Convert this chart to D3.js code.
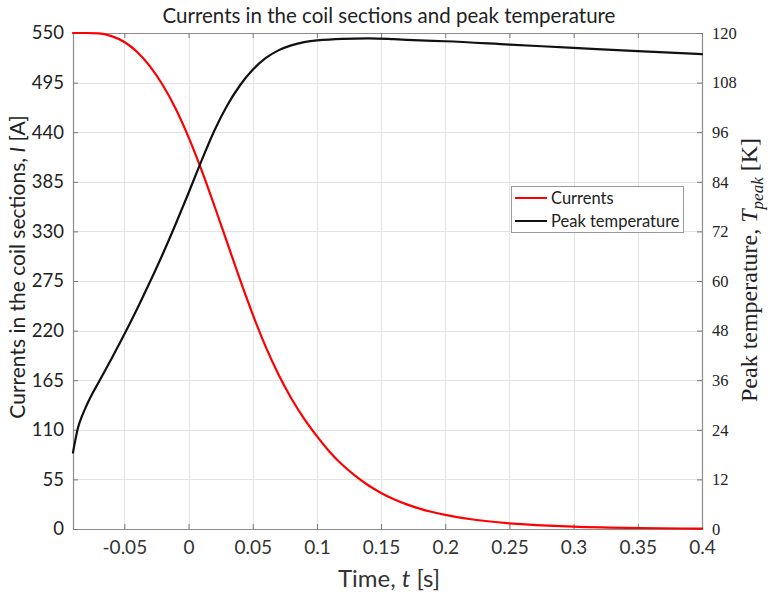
<!DOCTYPE html>
<html><head><meta charset="utf-8">
<script src="https://cdn.jsdelivr.net/npm/d3@7"></script>
<style>body{margin:0;background:#fff;} svg{display:block;}</style>
</head><body>
<script>
const timeTicks = [-0.05, 0, 0.05, 0.1, 0.15, 0.2, 0.25, 0.3, 0.35, 0.4];
const timeTickLabels = ["-0.05","0","0.05","0.1","0.15","0.2","0.25","0.3","0.35","0.4"];
const currentTicks = [0,55,110,165,220,275,330,385,440,495,550];
const tempTicks = [0,12,24,36,48,60,72,84,96,108,120];

const currentT = [-0.09,-0.08,-0.07,-0.06,-0.05,-0.04,-0.03,-0.02,-0.01,0,0.01,0.02,0.03,0.04,0.05,0.06,0.07,0.08,0.09,0.1,0.11,0.12,0.13,0.14,0.15,0.16,0.17,0.18,0.19,0.2,0.22,0.25,0.28,0.3,0.35,0.4];
const currentI = [550,550,549.6,546.5,540,529,513,492,466,434.5,398.5,359,318,277,238,202.5,171.5,145,122.5,103,85.5,71,59,48.5,40,33,27.3,22.6,18.8,15.6,10.8,6.3,3.8,2.7,1.1,0.4];

const tempT = [-0.09,-0.088,-0.086,-0.083,-0.08,-0.075,-0.07,-0.06,-0.05,-0.04,-0.03,-0.02,-0.01,0,0.01,0.02,0.03,0.04,0.05,0.06,0.07,0.08,0.09,0.1,0.12,0.14,0.16,0.18,0.2,0.25,0.3,0.35,0.4];
const tempK = [18.5,21.8,24.6,27.3,29.5,32.7,35.5,41.2,47.1,53.3,59.8,66.6,73.8,81.3,89.0,96.3,102.4,107.3,111.1,113.9,115.8,117.0,117.8,118.2,118.6,118.7,118.5,118.2,118.0,117.2,116.4,115.6,114.9];

const W = 770, H = 594;
const m = {left: 73, right: 702, top: 33, bottom: 529};

const svg = d3.select("body").append("svg").attr("width", W).attr("height", H);

const x = d3.scaleLinear().domain([-0.09, 0.4]).range([m.left, m.right]);
const yL = d3.scaleLinear().domain([0, 550]).range([m.bottom, m.top]);
const yR = d3.scaleLinear().domain([0, 120]).range([m.bottom, m.top]);

const sans = "Lato, 'Open Sans', sans-serif";
const serif = "'Liberation Serif', 'DejaVu Serif', serif";

// grid
const grid = svg.append("g").attr("stroke", "#e3e3e3").attr("stroke-width", 1);
timeTicks.forEach(t => grid.append("line").attr("x1", Math.round(x(t))+0.5).attr("x2", Math.round(x(t))+0.5).attr("y1", m.top).attr("y2", m.bottom));
currentTicks.forEach(v => grid.append("line").attr("y1", Math.round(yL(v))+0.5).attr("y2", Math.round(yL(v))+0.5).attr("x1", m.left).attr("x2", m.right));

// axes
const axisColor = "#8c8c8c";
const bottomAxis = d3.axisBottom(x).tickValues(timeTicks).tickFormat((d,i)=>timeTickLabels[i]).tickSizeInner(-5).tickSizeOuter(0).tickPadding(12);
const gB = svg.append("g").attr("transform", `translate(0,${m.bottom})`).call(bottomAxis);
const topAxis = d3.axisTop(x).tickValues(timeTicks).tickFormat("").tickSizeInner(-5).tickSizeOuter(0);
const gT = svg.append("g").attr("transform", `translate(0,${m.top})`).call(topAxis);
const leftAxis = d3.axisLeft(yL).tickValues(currentTicks).tickFormat(d3.format("d")).tickSizeInner(-5).tickSizeOuter(0).tickPadding(9);
const gL = svg.append("g").attr("transform", `translate(${m.left},0)`).call(leftAxis);
const rightAxis = d3.axisRight(yR).tickValues(tempTicks).tickFormat(d3.format("d")).tickSizeInner(-5).tickSizeOuter(0).tickPadding(10);
const gR = svg.append("g").attr("transform", `translate(${m.right},0)`).call(rightAxis);

[gB,gT,gL,gR].forEach(g => {
  g.select(".domain").attr("stroke", axisColor).attr("stroke-width", 1.2);
  g.selectAll(".tick line").attr("stroke", "#777");
});
gB.selectAll("text").attr("font-family", sans).attr("font-size", 19).attr("fill", "#333");
gL.selectAll("text").attr("font-family", sans).attr("font-size", 18.5).attr("fill", "#222");
gR.selectAll("text").attr("font-family", serif).attr("font-size", 16.5).attr("fill", "#222");

// lines
const lineI = d3.line().x((d,i)=>x(currentT[i])).y(d=>yL(d)).curve(d3.curveMonotoneX);
const lineT = d3.line().x((d,i)=>x(tempT[i])).y(d=>yR(d)).curve(d3.curveMonotoneX);

svg.append("path").attr("d", lineI(currentI)).attr("fill","none").attr("stroke","#ff0000").attr("stroke-width",2.2).attr("stroke-linecap","round");
svg.append("path").attr("d", lineT(tempK)).attr("fill","none").attr("stroke","#111").attr("stroke-width",2.2).attr("stroke-linecap","round");

// title
svg.append("text").attr("x", 389).attr("y", 23).attr("text-anchor","middle")
  .attr("font-family", sans).attr("font-size", 20.5).attr("fill","#222")
  .text("Currents in the coil sections and peak temperature");

// x label
const xl = svg.append("text").attr("x", 389).attr("y", 587).attr("text-anchor","middle")
  .attr("font-family", sans).attr("font-size", 24).attr("fill","#333");
xl.append("tspan").text("Time, ");
xl.append("tspan").attr("font-style","italic").text("t");
xl.append("tspan").text(" [s]");

// left label
const ll = svg.append("text").attr("transform", "translate(25,267) rotate(-90)").attr("text-anchor","middle")
  .attr("font-family", sans).attr("font-size", 21).attr("fill","#222");
ll.append("tspan").text("Currents in the coil sections, ");
ll.append("tspan").attr("font-style","italic").text("I");
ll.append("tspan").text(" [A]");

// right label
const rl = svg.append("text").attr("transform", "translate(757,270) rotate(-90)").attr("text-anchor","middle")
  .attr("font-family", serif).attr("font-size", 24).attr("fill","#222");
rl.append("tspan").text("Peak temperature, ");
rl.append("tspan").attr("font-style","italic").text("T");
rl.append("tspan").attr("font-style","italic").attr("font-size", 17).attr("dy", 6).text("peak");
rl.append("tspan").attr("dy", -6).text(" [K]");

// legend
const lg = svg.append("g");
lg.append("rect").attr("x", 511.5).attr("y", 186.5).attr("width", 172).attr("height", 46).attr("fill","#fff").attr("stroke","#999").attr("stroke-width",1);
const legendItems = [{label:"Currents", color:"#ff0000"},{label:"Peak temperature", color:"#111"}];
legendItems.forEach((it,i) => {
  const yy = 198 + i*23;
  lg.append("line").attr("x1",515).attr("x2",547).attr("y1",yy).attr("y2",yy).attr("stroke",it.color).attr("stroke-width",2);
  lg.append("text").attr("x",551).attr("y",yy+5.5).attr("font-family",sans).attr("font-size",16.5).attr("fill","#222").text(it.label);
});
</script>
</body></html>
